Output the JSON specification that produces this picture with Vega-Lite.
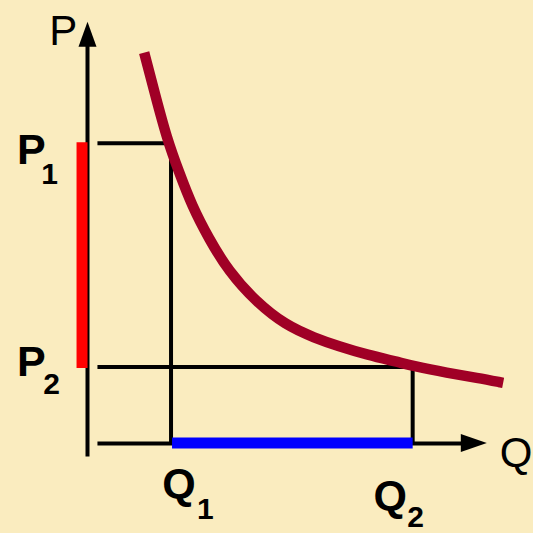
{
  "$schema": "https://vega.github.io/schema/vega-lite/v6.json",
  "width": 533,
  "height": 533,
  "autosize": {"type": "fit", "contains": "padding"},
  "padding": 0,
  "background": "#faecbf",
  "config": {"view": {"stroke": null}},
  "datasets": {
    "guides": [
      {"x": 0, "x2": 0, "y": -13, "y2": 401},
      {"x": 10, "x2": 378, "y": 0, "y2": 0},
      {"x": 10, "x2": 80, "y": 302, "y2": 302},
      {"x": 84, "x2": 84, "y": 0, "y2": 291},
      {"x": 10, "x2": 327, "y": 77, "y2": 77},
      {"x": 327, "x2": 327, "y": 0, "y2": 77}
    ],
    "curve": [
      {"x": 57, "y": 393},
      {"x": 68, "y": 351},
      {"x": 80, "y": 306},
      {"x": 92, "y": 273},
      {"x": 105, "y": 239},
      {"x": 122, "y": 206},
      {"x": 142, "y": 173},
      {"x": 169, "y": 143},
      {"x": 199, "y": 119},
      {"x": 229, "y": 106},
      {"x": 252, "y": 98},
      {"x": 282, "y": 89},
      {"x": 312, "y": 82},
      {"x": 327, "y": 78},
      {"x": 362, "y": 71},
      {"x": 392, "y": 66},
      {"x": 418, "y": 61}
    ],
    "pbar": [{"x": -5.5, "y": 303, "y2": 76}],
    "qbar": [{"x": 85, "x2": 327, "y": 0.5}],
    "uparrow": [{"x": 0, "y": 411.5}],
    "rightarrow": [{"x": 388.5, "y": 0.5}],
    "axisnames": [
      {"label": "P", "x": -24.5, "y": 401},
      {"label": "Q", "x": 431, "y": -24}
    ],
    "levels": [
      {"label": "P", "x": -56.5, "y": 281},
      {"label": "P", "x": -56.5, "y": 68},
      {"label": "Q", "x": 92, "y": -55},
      {"label": "Q", "x": 304.5, "y": -67}
    ],
    "subs": [
      {"label": "1", "x": -38, "y": 261},
      {"label": "2", "x": -36, "y": 50},
      {"label": "1", "x": 118.5, "y": -76},
      {"label": "2", "x": 330, "y": -84}
    ]
  },
  "layer": [
    {
      "data": {"name": "guides"},
      "mark": {"type": "rule", "color": "#000000", "strokeWidth": 4, "strokeCap": "butt"},
      "encoding": {
        "x": {"field": "x", "type": "quantitative", "scale": {"domain": [-88, 445], "nice": false, "zero": false}, "axis": null},
        "x2": {"field": "x2"},
        "y": {"field": "y", "type": "quantitative", "scale": {"domain": [-87, 446], "nice": false, "zero": false}, "axis": null},
        "y2": {"field": "y2"}
      }
    },
    {
      "data": {"name": "pbar"},
      "mark": {"type": "rule", "color": "#ff0000", "strokeWidth": 11, "strokeCap": "butt"},
      "encoding": {
        "x": {"field": "x", "type": "quantitative"},
        "y": {"field": "y", "type": "quantitative"},
        "y2": {"field": "y2"}
      }
    },
    {
      "data": {"name": "qbar"},
      "mark": {"type": "rule", "color": "#0000ff", "strokeWidth": 11, "strokeCap": "butt"},
      "encoding": {
        "x": {"field": "x", "type": "quantitative"},
        "x2": {"field": "x2"},
        "y": {"field": "y", "type": "quantitative"}
      }
    },
    {
      "data": {"name": "curve"},
      "mark": {"type": "line", "color": "#a00026", "strokeWidth": 10.5, "interpolate": "basis", "strokeCap": "butt"},
      "encoding": {
        "x": {"field": "x", "type": "quantitative"},
        "y": {"field": "y", "type": "quantitative"}
      }
    },
    {
      "data": {"name": "uparrow"},
      "mark": {"type": "point", "shape": "M0,-1L0.72,1L-0.72,1Z", "size": 625, "filled": true, "color": "#000000", "opacity": 1, "strokeWidth": 0},
      "encoding": {
        "x": {"field": "x", "type": "quantitative"},
        "y": {"field": "y", "type": "quantitative"}
      }
    },
    {
      "data": {"name": "rightarrow"},
      "mark": {"type": "point", "shape": "M1,0L-1,0.7L-1,-0.7Z", "size": 676, "filled": true, "color": "#000000", "opacity": 1, "strokeWidth": 0},
      "encoding": {
        "x": {"field": "x", "type": "quantitative"},
        "y": {"field": "y", "type": "quantitative"}
      }
    },
    {
      "data": {"name": "axisnames"},
      "mark": {"type": "text", "font": "Liberation Sans", "fontSize": 42, "color": "#000000", "align": "center", "baseline": "alphabetic"},
      "encoding": {
        "x": {"field": "x", "type": "quantitative"},
        "y": {"field": "y", "type": "quantitative"},
        "text": {"field": "label"}
      }
    },
    {
      "data": {"name": "levels"},
      "mark": {"type": "text", "font": "Liberation Sans", "fontSize": 43, "fontWeight": "bold", "color": "#000000", "align": "center", "baseline": "alphabetic"},
      "encoding": {
        "x": {"field": "x", "type": "quantitative"},
        "y": {"field": "y", "type": "quantitative"},
        "text": {"field": "label"}
      }
    },
    {
      "data": {"name": "subs"},
      "mark": {"type": "text", "font": "Liberation Sans", "fontSize": 30, "fontWeight": "bold", "color": "#000000", "align": "center", "baseline": "alphabetic"},
      "encoding": {
        "x": {"field": "x", "type": "quantitative"},
        "y": {"field": "y", "type": "quantitative"},
        "text": {"field": "label"}
      }
    }
  ]
}
